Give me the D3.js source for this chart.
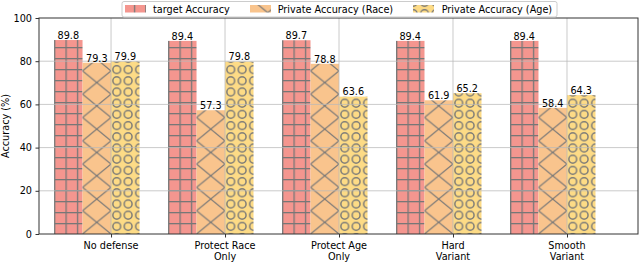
<!DOCTYPE html>
<html><head><meta charset="utf-8">
<script src="https://cdn.jsdelivr.net/npm/d3@7"></script>
<style>body{margin:0;background:#fff} svg{display:block;font-family:"DejaVu Sans",sans-serif}</style>
</head><body><svg id="c" width="640" height="262"></svg>
<script>
const categories = [["No defense"],["Protect Race","Only"],["Protect Age","Only"],["Hard","Variant"],["Smooth","Variant"]];
const seriesNames = ["target Accuracy","Private Accuracy (Race)","Private Accuracy (Age)"];
const targetAccuracy = [89.8, 89.4, 89.7, 89.4, 89.4];
const privateRace = [79.3, 57.3, 78.8, 61.9, 58.4];
const privateAge = [79.9, 79.8, 63.6, 65.2, 64.3];
const yTicks = [0, 20, 40, 60, 80, 100];

const series = [targetAccuracy, privateRace, privateAge];
const colors = ["#F4968F", "#F9C48D", "#FDDB86"];
const hatchColor = "#777777";
const FS = "9.7px";

const svg = d3.select("#c");
const L = 39, R = 638, T = 18, B = 234;
const x = d3.scaleLinear().domain([-0.632, 4.623]).range([L, R]);
const y = d3.scaleLinear().domain([0, 100]).range([B, T]);
const bw = 0.25;
const bwPx = x(bw) - x(0);

// patterns
const defs = svg.append("defs");
// grid '+'
{
  const gw = 11.4, gh = 11.0;
  const p = defs.append("pattern").attr("id", "p0").attr("patternUnits", "userSpaceOnUse")
    .attr("x", x(-0.5)).attr("y", B).attr("width", gw).attr("height", gh);
  p.append("rect").attr("width", gw).attr("height", gh).attr("fill", colors[0]);
  p.append("line").attr("x1", 0).attr("x2", 0).attr("y1", 0).attr("y2", gh).attr("stroke", hatchColor).attr("stroke-width", 2.6);
  p.append("line").attr("x1", 0).attr("x2", gw).attr("y1", 0).attr("y2", 0).attr("stroke", hatchColor).attr("stroke-width", 2.6);
}
// 'x'
{
  const w = bwPx, h = 23.3;
  const p = defs.append("pattern").attr("id", "p1").attr("patternUnits", "userSpaceOnUse")
    .attr("x", x(-0.25)).attr("y", B).attr("width", w).attr("height", h);
  p.append("rect").attr("width", w).attr("height", h).attr("fill", colors[1]);
  p.append("line").attr("x1", 0).attr("y1", 0).attr("x2", w).attr("y2", h).attr("stroke", hatchColor).attr("stroke-width", 1.2);
  p.append("line").attr("x1", 0).attr("y1", h).attr("x2", w).attr("y2", 0).attr("stroke", hatchColor).attr("stroke-width", 1.2);
}
// 'O'
{
  const w = 11.4, h = 11.2;
  const p = defs.append("pattern").attr("id", "p2").attr("patternUnits", "userSpaceOnUse")
    .attr("x", x(0)).attr("y", B - 2).attr("width", w).attr("height", h);
  p.append("rect").attr("width", w).attr("height", h).attr("fill", colors[2]);
  p.append("circle").attr("cx", w / 2).attr("cy", h / 2).attr("r", 3.9)
    .attr("fill", "none").attr("stroke", hatchColor).attr("stroke-width", 1.4);
}

// bars
series.forEach((vals, j) => {
  svg.append("g").selectAll("rect").data(vals).join("rect")
    .attr("x", (d, i) => x(i - 0.5 + j * bw))
    .attr("width", bwPx)
    .attr("y", d => y(d))
    .attr("height", d => y(0) - y(d))
    .attr("fill", `url(#p${j})`);
});

// grid on top
const grid = svg.append("g").attr("stroke", "#b8b8b8").attr("stroke-opacity", 0.75).attr("stroke-width", 1);
grid.selectAll(".hy").data(yTicks.slice(1, -1)).join("line")
  .attr("x1", L).attr("x2", R).attr("y1", d => y(d)).attr("y2", d => y(d));
grid.selectAll(".vx").data(categories.map((c, i) => i)).join("line")
  .attr("y1", T).attr("y2", B).attr("x1", d => x(d)).attr("x2", d => x(d));

// value labels
series.forEach((vals, j) => {
  svg.append("g").selectAll("text").data(vals).join("text")
    .attr("x", (d, i) => x(i - 0.5 + j * bw + bw / 2))
    .attr("y", d => y(d) - 1.2)
    .attr("text-anchor", "middle").attr("font-size", FS).attr("fill", "#000")
    .text(d => d.toFixed(1));
});

// frame
svg.append("rect").attr("x", L).attr("y", T).attr("width", R - L).attr("height", B - T)
  .attr("fill", "none").attr("stroke", "#333").attr("stroke-width", 1);

// axes
const ya = svg.append("g").attr("transform", `translate(${L},0)`)
  .call(d3.axisLeft(y).tickValues(yTicks).tickSize(3.5).tickPadding(3.5).tickFormat(d3.format("d")));
ya.select(".domain").remove();
ya.selectAll("text").attr("font-size", FS).attr("font-family", "DejaVu Sans").attr("fill", "#000");
ya.selectAll("line").attr("stroke", "#333");

const xa = svg.append("g").attr("transform", `translate(0,${B})`)
  .call(d3.axisBottom(x).tickValues(categories.map((c, i) => i)).tickSize(3.5).tickFormat(""));
xa.select(".domain").remove();
xa.selectAll("line").attr("stroke", "#333");
const xl = svg.append("g");
categories.forEach((lines, i) => {
  const t = xl.append("text").attr("text-anchor", "middle").attr("font-size", FS).attr("fill", "#000");
  lines.forEach((s, k) => t.append("tspan").attr("x", x(i)).attr("y", 248.5 + k * 11).text(s));
});

// y label
svg.append("text").attr("transform", "translate(8.5,126) rotate(-90)")
  .attr("text-anchor", "middle").attr("font-size", FS).attr("fill", "#000").text("Accuracy (%)");

// legend
const lg = svg.append("g");
lg.append("rect").attr("x", 122).attr("y", 1.5).attr("width", 435).attr("height", 15.5).attr("rx", 2)
  .attr("fill", "#fff").attr("fill-opacity", 0.85).attr("stroke", "#ccc").attr("stroke-width", 1);
const patchX = [125, 250, 413], textX = [153, 277.7, 441.7];
seriesNames.forEach((n, j) => {
  lg.append("rect").attr("x", patchX[j]).attr("y", 5).attr("width", 21).attr("height", 7.5).attr("fill", `url(#p${j})`);
  lg.append("text").attr("x", textX[j]).attr("y", 12.7).attr("font-size", FS).attr("fill", "#000").text(n);
});
</script></body></html>
